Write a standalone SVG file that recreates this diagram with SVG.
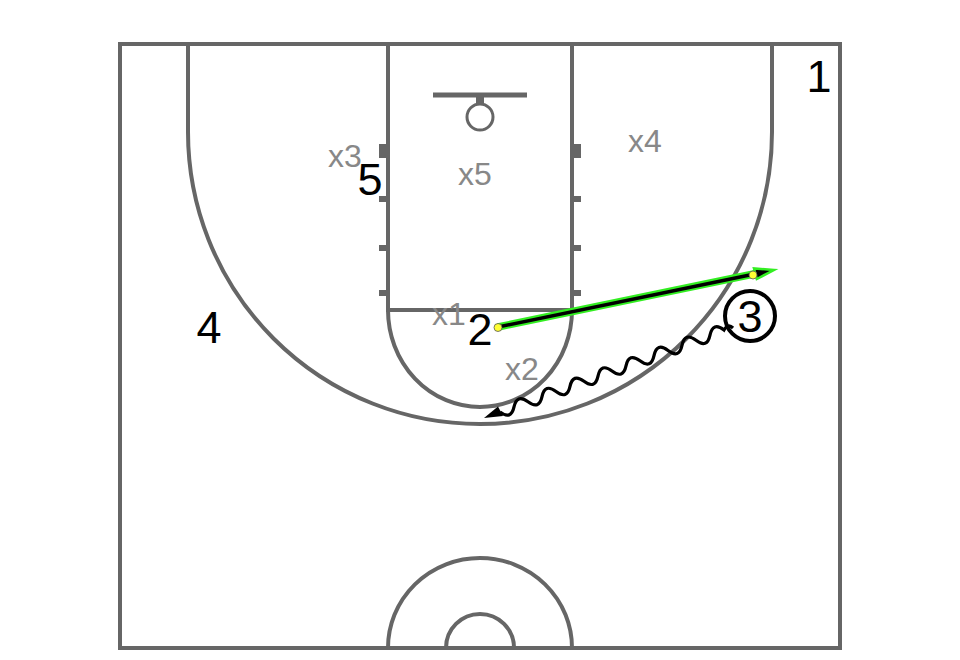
<svg xmlns="http://www.w3.org/2000/svg" width="960" height="660" viewBox="0 0 960 660">
<style>
.court{fill:none;stroke:#666;stroke-width:4}
.hash{fill:#666}
.def{font-family:"Liberation Sans",Arial,sans-serif;font-size:32px;fill:#888;text-anchor:middle}
.off{font-family:"Liberation Sans",Arial,sans-serif;font-size:45px;fill:#000;text-anchor:middle}
.dot{fill:#ffff33;stroke:#555;stroke-width:0.8}
</style>
<rect width="960" height="660" fill="#fff"/>
<g id="court">
<rect class="court" x="120" y="44" width="720" height="604"/>
<rect class="court" x="388" y="44" width="184" height="266"/>
<path class="court" d="M388,310 A92,97 0 0 0 572,310"/>
<path class="court" d="M188,44 V132 A292,292 0 0 0 772,132 V44"/>
<path class="court" d="M388,648 A92,90 0 0 1 572,648"/>
<path class="court" d="M446,648 A34,34 0 0 1 514,648"/>
<line x1="433" y1="95" x2="527" y2="95" stroke="#666" stroke-width="5"/>
<rect class="hash" x="476" y="95" width="8" height="9"/>
<circle cx="480" cy="117" r="13" fill="none" stroke="#666" stroke-width="3"/>
<rect class="hash" x="379" y="144" width="9" height="14"/>
<rect class="hash" x="379" y="196" width="9" height="6"/>
<rect class="hash" x="379" y="245" width="9" height="6"/>
<rect class="hash" x="379" y="290" width="9" height="6"/>
<rect class="hash" x="572" y="144" width="9" height="14"/>
<rect class="hash" x="572" y="196" width="9" height="6"/>
<rect class="hash" x="572" y="245" width="9" height="6"/>
<rect class="hash" x="572" y="290" width="9" height="6"/>
</g>
<g id="defenders">
<text id="x1" class="def" x="449" y="325">x1</text>
<text id="x2" class="def" x="522" y="380">x2</text>
<text id="x3" class="def" x="345" y="167">x3</text>
<text id="x4" class="def" x="645" y="152">x4</text>
<text id="x5" class="def" x="475" y="185">x5</text>
</g>
<g id="connectors">
<line x1="498" y1="327" x2="756" y2="273.5" stroke="#33ee22" stroke-width="7.5"/>
<polygon points="774,270 754,268.5 756.8,279" fill="#000" stroke="#33ee22" stroke-width="2.5" stroke-linejoin="miter"/>
<line x1="498" y1="327" x2="757" y2="273.5" stroke="#000" stroke-width="3.5"/>
<circle class="dot" cx="498" cy="327.5" r="4"/>
<circle class="dot" cx="753" cy="275" r="4"/>
<path d="M733,328 Q728,323 724,330 Q712.9,321.3 710,335.1 T696,340.3 T682,345.4 T668,350.5 T654,355.6 T640,360.8 T626,365.9 T612,371 T598,376.1 T584,381.3 T570,386.4 T556,391.5 T542,396.6 T528,401.8 T514,406.9 T500,412" fill="none" stroke="#000" stroke-width="3.2"/>
<polygon points="484,418 498,406.5 503,416" fill="#000"/>
</g>
<g id="p1"><text class="off" x="819" y="92">1</text></g>
<g id="p2"><text class="off" x="480" y="345">2</text></g>
<g id="p3"><circle cx="750" cy="316" r="25" fill="none" stroke="#000" stroke-width="4"/><text class="off" x="750" y="332">3</text></g>
<g id="p4"><text class="off" x="209" y="343">4</text></g>
<g id="p5"><text class="off" x="370" y="195">5</text></g>
</svg>
